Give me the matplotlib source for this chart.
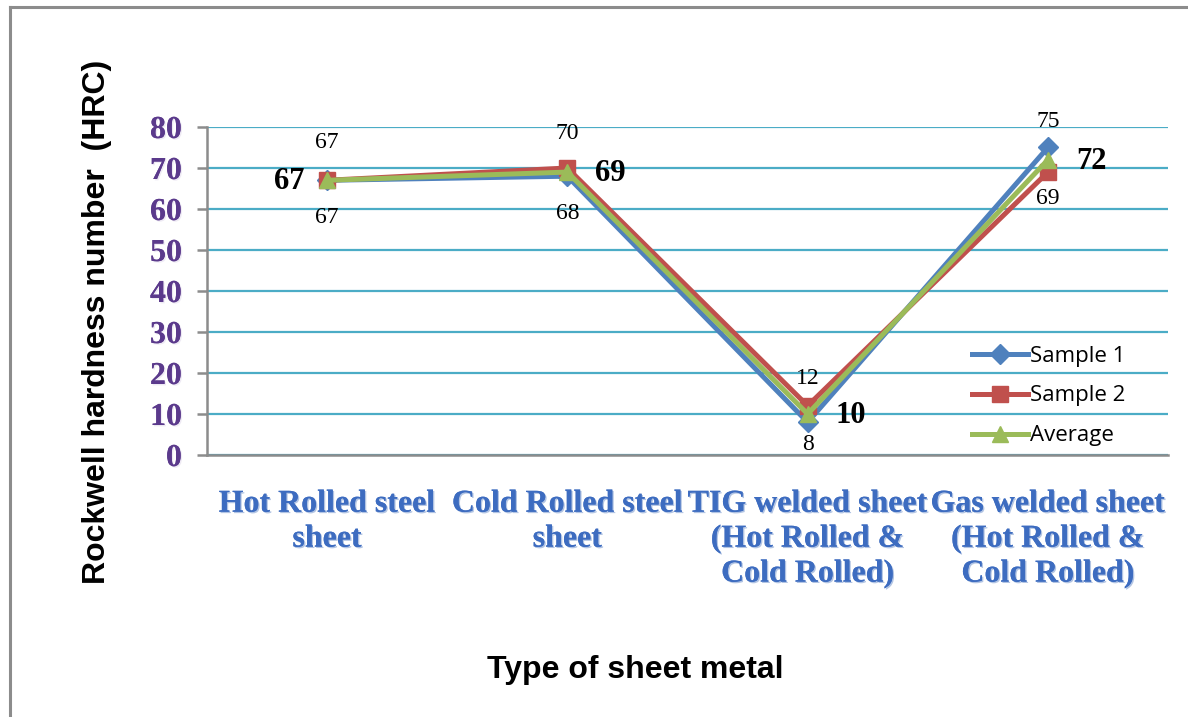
import matplotlib

matplotlib.use("Agg")
import matplotlib.pyplot as plt  # noqa: E402
import matplotlib.patheffects as pe  # noqa: E402
from matplotlib.lines import Line2D  # noqa: E402

categories = [
    "Hot Rolled steel\nsheet",
    "Cold Rolled steel\nsheet",
    "TIG welded sheet\n(Hot Rolled &\nCold Rolled)",
    "Gas welded sheet\n(Hot Rolled &\nCold Rolled)",
]
sample1 = [67, 68, 8, 75]
sample2 = [67, 70, 12, 69]
average = [67, 69, 10, 72]
yticks = [0, 10, 20, 30, 40, 50, 60, 70, 80]

BLUE, RED, GREEN = "#4f81bd", "#c0504d", "#9bbb59"
GRID = "#4bacc6"
AXIS = "#8c8c8c"

fig = plt.figure(figsize=(11.88, 7.17), dpi=100)
ax = fig.add_axes([0.1742, 0.3654, 0.8090, 0.4575])

x = list(range(len(categories)))
ax.plot(x, sample1, color=BLUE, lw=3.6, marker="D", ms=10, label="Sample 1", zorder=3)
ax.plot(x, sample2, color=RED, lw=3.6, marker="s", ms=11, label="Sample 2", zorder=4)
ax.plot(x, average, color=GREEN, lw=3.6, marker="^", ms=12, label="Average", zorder=5)

# value labels: sample 1 / sample 2 above or below, average in bold beside
lab = dict(fontsize=17, family="Liberation Serif", ha="center", va="center")
s1_off = [-27, -27, -16, 19]
s2_off = [27, 25, 20, -19]
for i in x:
    ax.annotate(str(sample1[i]), (i, sample1[i]), xytext=(0, s1_off[i]),
                textcoords="offset points", **lab)
    ax.annotate(str(sample2[i]), (i, sample2[i]), xytext=(0, s2_off[i]),
                textcoords="offset points", **lab)
    dx = -27 if i == 0 else 31
    ax.annotate(str(average[i]), (i, average[i]), xytext=(dx, -1),
                textcoords="offset points", fontsize=22, fontweight="bold",
                family="Liberation Serif", ha="center", va="center")

ax.set_xlim(-0.5, 3.5)
ax.set_ylim(0, 80)
ax.set_yticks(yticks)
ax.set_xticks(x)
ax.set_xticklabels(categories)
ax.grid(axis="y", color=GRID, lw=1.6)
ax.set_axisbelow(True)
for s in ("top", "right"):
    ax.spines[s].set_visible(False)
for s in ("left", "bottom"):
    ax.spines[s].set_color(AXIS)
    ax.spines[s].set_linewidth(1.8)
ax.tick_params(axis="y", direction="out", length=7, width=1.8, color=AXIS, pad=11)
ax.tick_params(axis="x", length=0, pad=25)

shadow = [pe.withSimplePatchShadow(offset=(1, -1), shadow_rgbFace="#9fb6dc", alpha=0.8),
          pe.Normal()]
for t in ax.get_yticklabels():
    t.set_fontsize(23)
    t.set_family("Liberation Serif")
    t.set_fontweight("bold")
    t.set_color("#5b3a8c")
    t.set_path_effects([pe.withSimplePatchShadow(offset=(1, -1), shadow_rgbFace="#c9bcdc"),
                        pe.Normal()])
for t in ax.get_xticklabels():
    t.set_fontsize(23)
    t.set_family("Liberation Serif")
    t.set_fontweight("bold")
    t.set_color("#3d6cc0")
    t.set_linespacing(1.27)
    t.set_path_effects(shadow)

ax.set_ylabel("Rockwell hardness number  (HRC)", fontsize=23, fontweight="bold",
              family="Liberation Sans")
ax.yaxis.set_label_coords(-0.099, 0.405)
fig.text(0.5345, 0.0656, "Type of sheet metal", fontsize=23, fontweight="bold",
         family="Liberation Sans", ha="center", va="center")

ax.legend(loc="center left", bbox_to_anchor=(0.796, 0.18), frameon=False,
          borderpad=0, borderaxespad=0,
          prop={"family": "Open Sans", "size": 16}, handlelength=2.5,
          labelspacing=0.85, handletextpad=0.1)

# outer chart frame (left and top edges)
fig.add_artist(Line2D([10 / 1188, 10 / 1188], [0, 1 - 7 / 717], color=AXIS, lw=2.2,
                      transform=fig.transFigure))
fig.add_artist(Line2D([10 / 1188, 1], [1 - 7 / 717, 1 - 7 / 717], color=AXIS, lw=2.2,
                      transform=fig.transFigure))

fig.savefig("out.png", dpi=100)
